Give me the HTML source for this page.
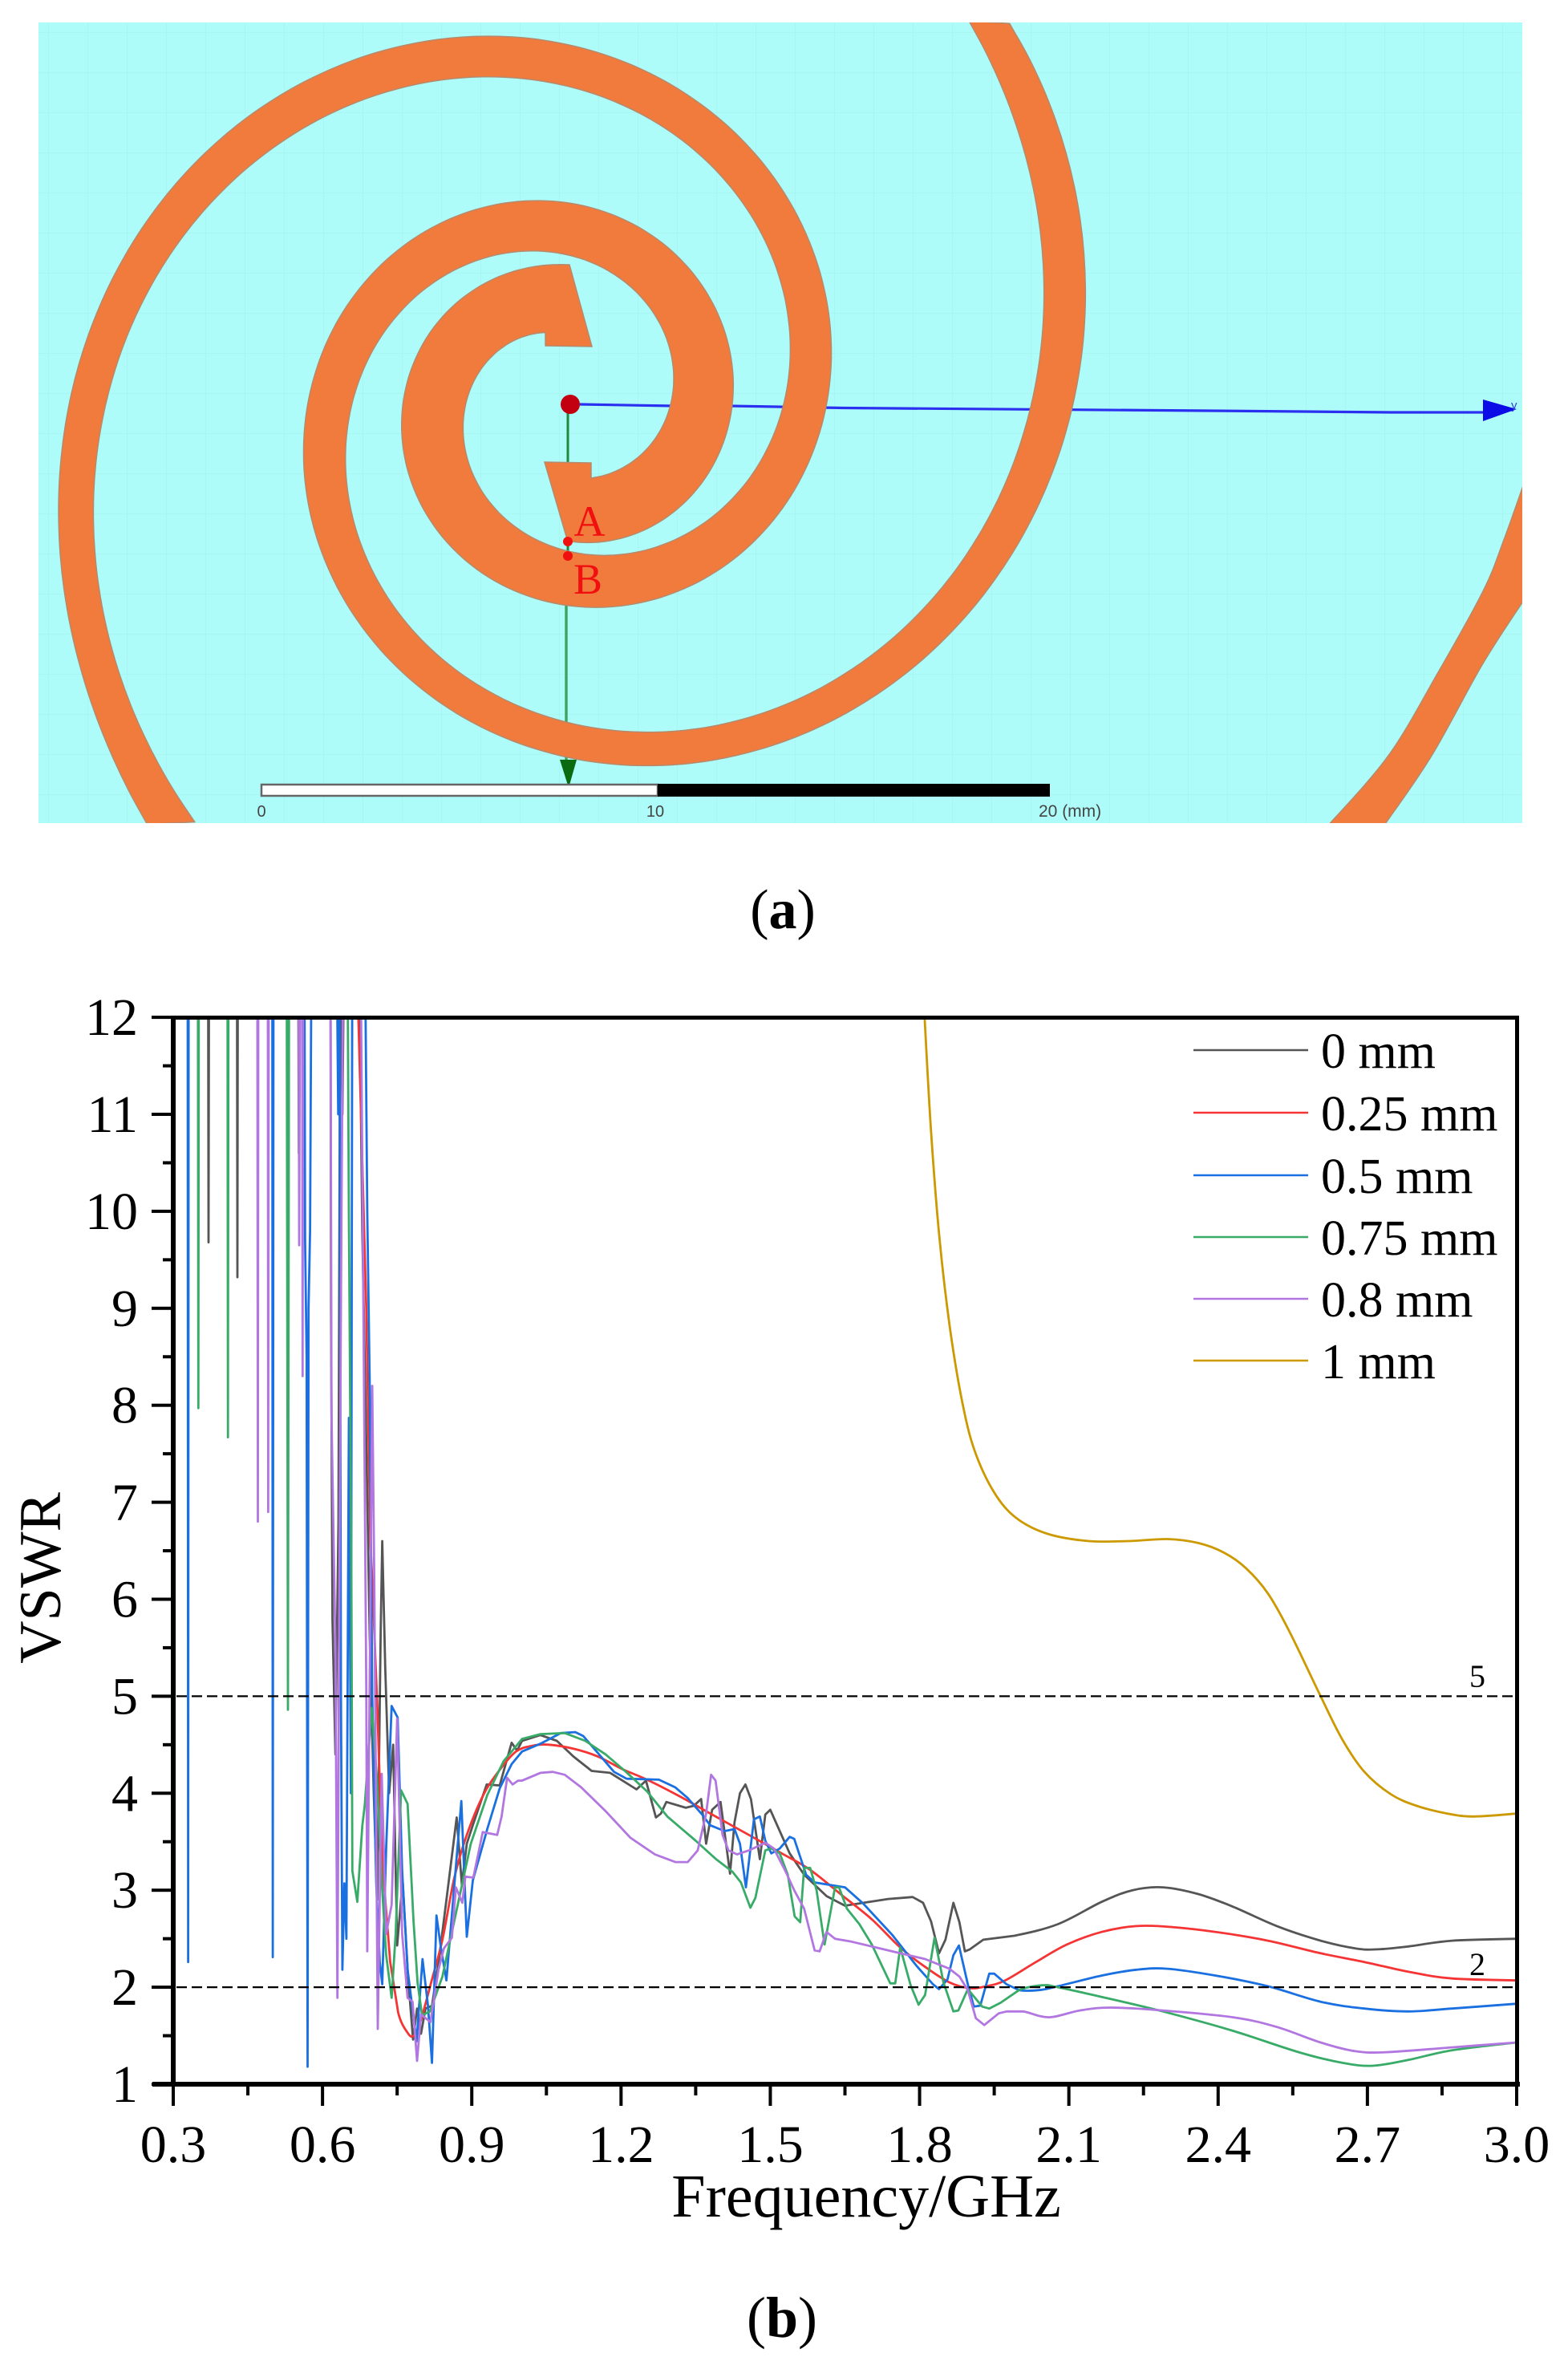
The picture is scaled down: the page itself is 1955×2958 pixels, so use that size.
<!DOCTYPE html>
<html lang="en">
<head>
<meta charset="utf-8">
<title>Spiral antenna and VSWR chart</title>
<style>
html,body{margin:0;padding:0;background:#fff;width:1955px;height:2958px;overflow:hidden}
svg{display:block}
text{font-family:"Liberation Serif",serif;fill:#000}
</style>
</head>
<body>
<svg id="root" xmlns="http://www.w3.org/2000/svg" width="1955" height="2958" viewBox="0 0 1955 2958">
<defs>
<pattern id="gridPat" width="49" height="50" patternUnits="userSpaceOnUse" x="60" y="40">
<rect width="49" height="50" fill="#aefcf9"/>
<path d="M0 0V50M0 0H49" stroke="#a6f3f0" stroke-width="1.5" fill="none"/>
</pattern>
<clipPath id="panelClip"><rect x="48" y="28" width="1850" height="998"/></clipPath>
<clipPath id="plotClip"><rect x="216" y="1268" width="1675" height="1330"/></clipPath>
</defs>

<g id="panel-a">
<rect x="48" y="28" width="1850" height="998" fill="url(#gridPat)"/>
<g clip-path="url(#panelClip)">
<line x1="708" y1="504" x2="708" y2="700" stroke="#1f8a3a" stroke-width="3"/>
<line x1="706" y1="700" x2="706" y2="950" stroke="#3ea35f" stroke-width="3.4"/>
<polygon points="698,947 719,947 709,982" fill="#0a6a10"/>
<polyline points="723,504 840,506 910,506 1051,508.5 1507,512 1734,514 1852,514" fill="none" stroke="#2a2ff0" stroke-width="3.2"/>
<polygon points="1849,498 1891,510 1849,525" fill="#0c0ce6"/>
<path id="arm1" fill="#f17a3d" stroke="#b58a6c" stroke-width="1.5"/>
<path id="arm2" fill="#f17a3d" stroke="#b58a6c" stroke-width="1.5"/>
<path id="arm3" fill="#f17a3d" stroke="#b58a6c" stroke-width="1.5"/>
<circle cx="711" cy="504" r="12" fill="#c20010"/>
<circle cx="708" cy="675" r="6" fill="#f01010"/>
<circle cx="708" cy="693" r="6" fill="#f01010"/>
</g>
<text x="1884" y="510" font-size="15" style="font-family:'Liberation Sans',sans-serif;fill:#3040e0">y</text>
<text x="735" y="668" font-size="54" text-anchor="middle" style="fill:#f01010">A</text>
<text x="733" y="740" font-size="54" text-anchor="middle" style="fill:#f01010">B</text>
<g>
<rect x="326" y="978" width="494" height="14" fill="#fff" stroke="#666" stroke-width="2.5"/>
<rect x="820" y="977" width="489" height="16" fill="#000"/>
<text x="326" y="1018" font-size="20" text-anchor="middle" style="font-family:'Liberation Sans',sans-serif;fill:#444">0</text>
<text x="817" y="1018" font-size="20" text-anchor="middle" style="font-family:'Liberation Sans',sans-serif;fill:#444">10</text>
<text x="1295" y="1018" font-size="21" style="font-family:'Liberation Sans',sans-serif;fill:#444">20 (mm)</text>
</g>
</g>
<text x="976" y="1157" font-size="70" text-anchor="middle">(<tspan font-weight="bold">a</tspan>)</text>

<g id="chart">
<g clip-path="url(#plotClip)">
<path id="s0" fill="none" stroke="#555555" stroke-width="2.8" stroke-linejoin="round"/>
<path id="s1" fill="none" stroke="#f53535" stroke-width="2.8" stroke-linejoin="round"/>
<path id="s2" fill="none" stroke="#1a70e0" stroke-width="2.8" stroke-linejoin="round"/>
<path id="s3" fill="none" stroke="#38ab68" stroke-width="2.8" stroke-linejoin="round"/>
<path id="s4" fill="none" stroke="#b176e0" stroke-width="2.8" stroke-linejoin="round"/>
<path id="s5" fill="none" stroke="#cc9900" stroke-width="2.8" stroke-linejoin="round"/>
</g>
<line id="ref5" stroke="#000" stroke-width="2.2" stroke-dasharray="13 6"/>
<line id="ref2" stroke="#000" stroke-width="2.2" stroke-dasharray="13 6"/>
<text x="1842" y="2103" font-size="40" text-anchor="middle">5</text>
<text x="1842" y="2462" font-size="40" text-anchor="middle">2</text>
<g id="axes">
<rect x="213" y="1266" width="1681" height="5" fill="#000"/>
<rect x="1889" y="1266" width="5" height="1335" fill="#000"/>
<rect x="213" y="1266" width="6" height="1335" fill="#000"/>
<rect x="190" y="2595" width="1705" height="6" fill="#000"/>
</g>
<text x="1080" y="2763" font-size="76" text-anchor="middle">Frequency/GHz</text>
<text transform="translate(75 1967) rotate(-90)" font-size="74" text-anchor="middle">VSWR</text>
<g id="legend">
<g><line x1="1488" x2="1631" y1="1309" y2="1309" stroke="#555555" stroke-width="2.4"/><text x="1647" y="1331" font-size="62">0 mm</text></g>
<g><line x1="1488" x2="1631" y1="1387" y2="1387" stroke="#f53535" stroke-width="2.4"/><text x="1647" y="1409" font-size="62">0.25 mm</text></g>
<g><line x1="1488" x2="1631" y1="1465" y2="1465" stroke="#1a70e0" stroke-width="2.4"/><text x="1647" y="1487" font-size="62">0.5 mm</text></g>
<g><line x1="1488" x2="1631" y1="1542" y2="1542" stroke="#38ab68" stroke-width="2.4"/><text x="1647" y="1564" font-size="62">0.75 mm</text></g>
<g><line x1="1488" x2="1631" y1="1619" y2="1619" stroke="#b176e0" stroke-width="2.4"/><text x="1647" y="1641" font-size="62">0.8 mm</text></g>
<g><line x1="1488" x2="1631" y1="1696" y2="1696" stroke="#cc9900" stroke-width="2.4"/><text x="1647" y="1718" font-size="62">1 mm</text></g>
</g>
</g>
<text x="975" y="2913" font-size="72" text-anchor="middle">(<tspan font-weight="bold">b</tspan>)</text>
</svg>

<script>
// Chart data: [frequency GHz, VSWR]
const xTickLabels = ['0.3','0.6','0.9','1.2','1.5','1.8','2.1','2.4','2.7','3.0'];
const xTickValues = [0.3,0.6,0.9,1.2,1.5,1.8,2.1,2.4,2.7,3.0];
const xMinorValues = [0.45,0.75,1.05,1.35,1.65,1.95,2.25,2.55,2.85];
const yTickValues = [1,2,3,4,5,6,7,8,9,10,11,12];
const yMinorValues = [1.5,2.5,3.5,4.5,5.5,6.5,7.5,8.5,9.5,10.5,11.5];
const referenceLevels = [5,2];

const series0mm = [[.3,13],[.37,13],[.371,9.68],[.372,13],[.428,13],[.429,9.32],[.43,13],[.551,13],[.5525,10.6],[.554,13],[.616,13],[.617,9],[.62,5.8],[.626,4.4],[.632,6.8],[.636,13],[.64,11],[.644,13],[.673,13],[.68,9.8],[.689,7.35],[.695,5.6],[.703,4],[.71,2.9],[.717,5.7],[.72,6.6],[.726,5.3],[.734,4],[.742,4.5],[.75,2.43],[.761,3.1],[.772,2.1],[.782,1.46],[.79,1.78],[.798,1.52],[.807,1.78],[.82,1.81],[.833,2.25],[.849,2.9],[.8696,3.75],[.88,3.06],[.89,3.48],[.902,3.67],[.93,4.09],[.956,4.08],[.98,4.52],[.991,4.44],[1.001,4.54],[1.038,4.6],[1.071,4.54],[1.104,4.38],[1.141,4.23],[1.178,4.21],[1.231,4.04],[1.25,4.13],[1.27,3.75],[1.28,3.79],[1.291,3.91],[1.33,3.85],[1.346,3.87],[1.361,3.94],[1.371,3.48],[1.383,3.83],[1.4,3.91],[1.419,3.17],[1.428,3.7],[1.439,4],[1.45,4.09],[1.461,3.94],[1.479,3.32],[1.49,3.78],[1.5,3.83],[1.539,3.38],[1.568,3.16],[1.613,2.94],[1.65,2.84],[1.687,2.87],[1.737,2.91],[1.786,2.93],[1.807,2.87],[1.823,2.68],[1.839,2.35],[1.852,2.49],[1.868,2.87],[1.88,2.67],[1.891,2.37],[1.901,2.39],[1.928,2.49],[1.99,2.53],[2.078,2.65],[2.166,2.88],[2.228,3],[2.289,3.03],[2.36,2.96],[2.43,2.83],[2.518,2.63],[2.606,2.48],[2.676,2.4],[2.72,2.39],[2.782,2.42],[2.87,2.48],[3,2.5]];

const series025mm = [[.3,13],[.3005,10.7],[.302,13],[.67,13],[.672,12],[.688,9],[.696,6.6],[.7,6.2],[.71,4.9],[.72,3.3],[.736,2.26],[.752,1.74],[.771,1.53],[.783,1.5],[.796,1.63],[.82,2.08],[.841,2.49],[.865,3.13],[.89,3.57],[.923,3.98],[.956,4.24],[.989,4.43],[1.022,4.49],[1.055,4.5],[1.104,4.46],[1.153,4.38],[1.202,4.25],[1.252,4.14],[1.317,3.97],[1.383,3.78],[1.457,3.57],[1.523,3.38],[1.58,3.21],[1.646,2.94],[1.704,2.7],[1.761,2.41],[1.811,2.21],[1.86,2.05],[1.901,1.99],[1.934,2.01],[1.972,2.07],[2.034,2.26],[2.096,2.44],[2.166,2.57],[2.236,2.63],[2.307,2.62],[2.395,2.57],[2.5,2.48],[2.606,2.35],[2.694,2.26],[2.782,2.16],[2.87,2.09],[3,2.07]];

const series05mm = [[.3,13],[.329,13],[.33,2.26],[.331,13],[.499,13],[.5,2.31],[.5015,13],[.5635,13],[.565,9.7],[.568,8.5],[.57,1.18],[.572,9],[.575,9.8],[.578,13],[.628,13],[.6315,11],[.634,13],[.637,5],[.64,2.18],[.644,3.07],[.648,2.5],[.653,7.87],[.657,4],[.66,13],[.685,13],[.69,10],[.695,8.2],[.7,5],[.708,3.07],[.715,2.26],[.72,2.03],[.728,3.44],[.739,4.9],[.751,4.78],[.76,3.2],[.771,2.18],[.789,1.44],[.801,2.29],[.812,1.81],[.82,1.22],[.829,2.74],[.838,2.4],[.849,2.07],[.879,3.92],[.89,2.52],[.902,3.1],[.931,3.63],[.956,4.05],[.98,4.3],[1.001,4.43],[1.038,4.51],[1.079,4.62],[1.108,4.63],[1.124,4.59],[1.161,4.37],[1.186,4.22],[1.211,4.15],[1.276,4.14],[1.309,4.06],[1.334,3.95],[1.363,3.78],[1.379,3.67],[1.408,3.61],[1.428,3.63],[1.439,3.48],[1.451,3.03],[1.467,3.73],[1.479,3.76],[1.49,3.51],[1.502,3.38],[1.519,3.43],[1.539,3.55],[1.548,3.53],[1.572,3.16],[1.589,3.08],[1.65,3.03],[1.687,2.86],[1.745,2.54],[1.794,2.22],[1.827,2.03],[1.839,1.98],[1.856,2.08],[1.868,2.33],[1.879,2.43],[1.897,2.03],[1.909,1.8],[1.922,1.81],[1.94,2.14],[1.95,2.14],[1.975,2.03],[2,1.97],[2.04,1.97],[2.078,2.01],[2.166,2.12],[2.236,2.18],[2.298,2.19],[2.395,2.12],[2.5,2.01],[2.606,1.85],[2.694,1.78],[2.782,1.75],[2.87,1.78],[3,1.83]];

const series075mm = [[.3,13],[.3495,13],[.3505,7.97],[.3515,13],[.409,13],[.41,7.67],[.411,13],[.528,13],[.5305,4.86],[.533,13],[.65,13],[.653,9.94],[.658,6.25],[.66,3.2],[.67,2.88],[.68,3.66],[.685,3.88],[.699,4.88],[.709,4.18],[.72,3],[.728,2.33],[.739,1.89],[.747,2.55],[.758,4.03],[.771,3.89],[.783,2.68],[.791,2.05],[.8,1.71],[.816,1.75],[.841,2.11],[.861,2.59],[.898,3.48],[.931,3.98],[.964,4.33],[1.001,4.56],[1.038,4.61],[1.087,4.62],[1.128,4.54],[1.169,4.4],[1.21,4.22],[1.252,4.02],[1.293,3.76],[1.35,3.51],[1.391,3.32],[1.424,3.19],[1.441,3.08],[1.46,2.82],[1.47,2.92],[1.49,3.41],[1.502,3.43],[1.519,3.38],[1.535,3.16],[1.549,2.73],[1.56,2.67],[1.568,3.23],[1.58,3.23],[1.593,3],[1.609,2.44],[1.63,3.03],[1.638,3.03],[1.654,2.81],[1.679,2.65],[1.704,2.44],[1.741,2.04],[1.751,2.04],[1.761,2.41],[1.782,2.02],[1.798,1.82],[1.811,1.92],[1.83,2.51],[1.848,2.05],[1.868,1.75],[1.878,1.76],[1.897,1.98],[1.926,1.8],[1.94,1.78],[1.963,1.84],[2,1.97],[2.047,2.02],[2.078,2],[2.166,1.9],[2.289,1.75],[2.43,1.55],[2.562,1.33],[2.65,1.22],[2.711,1.19],[2.782,1.25],[2.87,1.35],[3,1.43]];

const series08mm = [[.3,13],[.3005,8.17],[.302,13],[.469,13],[.47,6.8],[.471,13],[.49,13],[.4908,6.9],[.492,13],[.552,13],[.553,9.65],[.555,13],[.559,13],[.56,8.3],[.561,13],[.616,13],[.618,7.9],[.626,5.5],[.63,1.89],[.634,6.25],[.638,9.94],[.642,13],[.676,13],[.683,8.47],[.688,5.07],[.69,2.37],[.696,5.9],[.7,8.2],[.704,6.25],[.711,1.57],[.719,4.2],[.728,2.55],[.739,2.85],[.75,4.77],[.76,2.55],[.771,1.89],[.781,1.85],[.79,1.24],[.798,1.72],[.817,1.64],[.833,2.18],[.844,2.4],[.86,2.51],[.868,3.03],[.881,2.87],[.887,3.14],[.903,3.13],[.922,3.6],[.951,3.57],[.96,3.76],[.971,4.16],[.982,4.09],[.993,4.13],[1.001,4.13],[1.038,4.21],[1.063,4.22],[1.087,4.19],[1.12,4.06],[1.17,3.81],[1.219,3.54],[1.268,3.37],[1.309,3.29],[1.334,3.29],[1.354,3.41],[1.371,3.79],[1.381,4.19],[1.39,4.13],[1.404,3.57],[1.416,3.41],[1.433,3.37],[1.457,3.41],[1.49,3.49],[1.507,3.43],[1.531,3.19],[1.548,3],[1.568,2.81],[1.589,2.38],[1.599,2.37],[1.613,2.57],[1.63,2.5],[1.663,2.47],[1.745,2.37],[1.811,2.29],[1.86,2.19],[1.88,2.11],[1.897,1.97],[1.913,1.68],[1.93,1.61],[1.959,1.73],[1.975,1.75],[2.008,1.75],[2.06,1.69],[2.122,1.76],[2.184,1.79],[2.289,1.76],[2.43,1.69],[2.518,1.59],[2.606,1.43],[2.676,1.34],[2.738,1.33],[2.87,1.38],[3,1.43]];

const series1mm = [[1.81,12],[1.823,10.83],[1.84,9.72],[1.862,8.76],[1.889,7.95],[1.915,7.47],[1.955,7.06],[1.999,6.82],[2.06,6.67],[2.14,6.6],[2.219,6.6],[2.298,6.62],[2.36,6.58],[2.412,6.48],[2.456,6.32],[2.5,6.06],[2.544,5.66],[2.606,5],[2.65,4.55],[2.694,4.22],[2.747,3.99],[2.799,3.87],[2.861,3.79],[2.914,3.76],[3,3.79]];

const SVGNS = 'http://www.w3.org/2000/svg';
function scaleX(f){ return 216 + (f - 0.3) * (1675 / 2.7); }
function scaleY(v){ return 2598 - (v - 1) * 120.9; }

function drawSeries(id, data, smoothFrom){
  const p = data.map(function(d){ return [scaleX(d[0]), scaleY(d[1])]; });
  let d = 'M' + p[0][0].toFixed(1) + ' ' + p[0][1].toFixed(1);
  for(let i = 0; i < p.length - 1; i++){
    const c = p[i + 1];
    if(data[i][0] >= smoothFrom){
      const a = p[Math.max(i - 1, 0)], b = p[i], e = p[Math.min(i + 2, p.length - 1)];
      d += ' C' + (b[0] + (c[0] - a[0]) / 6).toFixed(1) + ' ' + (b[1] + (c[1] - a[1]) / 6).toFixed(1) + ' ' +
           (c[0] - (e[0] - b[0]) / 6).toFixed(1) + ' ' + (c[1] - (e[1] - b[1]) / 6).toFixed(1) + ' ' +
           c[0].toFixed(1) + ' ' + c[1].toFixed(1);
    } else {
      d += ' L' + c[0].toFixed(1) + ' ' + c[1].toFixed(1);
    }
  }
  document.getElementById(id).setAttribute('d', d);
}
drawSeries('s0', series0mm, 1.93);
drawSeries('s1', series025mm, 0.75);
drawSeries('s2', series05mm, 2.0);
drawSeries('s3', series075mm, 2.0);
drawSeries('s4', series08mm, 1.98);
drawSeries('s5', series1mm, 0);

['ref5','ref2'].forEach(function(id, i){
  const el = document.getElementById(id);
  el.setAttribute('x1', scaleX(0.3) + 4);
  el.setAttribute('x2', scaleX(3.0));
  el.setAttribute('y1', scaleY(referenceLevels[i]));
  el.setAttribute('y2', scaleY(referenceLevels[i]));
});

const axes = document.getElementById('axes');
xTickValues.forEach(function(v, i){
  const t = document.createElementNS(SVGNS, 'rect');
  
  
  t.setAttribute('x', scaleX(v) - 2);
  t.setAttribute('y', 2598);
  t.setAttribute('width', 4);
  t.setAttribute('height', 27);
  axes.appendChild(t);
  const l = document.createElementNS(SVGNS, 'text');
  
  
  l.setAttribute('x', scaleX(v));
  l.setAttribute('y', 2695);
  l.setAttribute('font-size', 66);
  l.setAttribute('text-anchor', 'middle');
  l.textContent = xTickLabels[i];
  axes.appendChild(l);
});
xMinorValues.forEach(function(v){
  const t = document.createElementNS(SVGNS, 'rect');
  
  
  t.setAttribute('x', scaleX(v) - 2);
  t.setAttribute('y', 2598);
  t.setAttribute('width', 4);
  t.setAttribute('height', 14);
  axes.appendChild(t);
});
yTickValues.forEach(function(v){
  const t = document.createElementNS(SVGNS, 'rect');
  
  
  t.setAttribute('x', 189);
  t.setAttribute('y', scaleY(v) - 2);
  t.setAttribute('width', 27);
  t.setAttribute('height', 4);
  axes.appendChild(t);
  const l = document.createElementNS(SVGNS, 'text');
  
  
  l.setAttribute('x', 172);
  l.setAttribute('y', scaleY(v) + 22);
  l.setAttribute('font-size', 66);
  l.setAttribute('text-anchor', 'end');
  l.textContent = String(v);
  axes.appendChild(l);
});
yMinorValues.forEach(function(v){
  const t = document.createElementNS(SVGNS, 'rect');
  
  
  t.setAttribute('x', 203);
  t.setAttribute('y', scaleY(v) - 2);
  t.setAttribute('width', 13);
  t.setAttribute('height', 4);
  axes.appendChild(t);
});

// Antenna outline geometry (panel a), page pixels
function smooth(p){
  let d = '';
  for(let i = 0; i < p.length - 1; i++){
    const a = p[Math.max(i - 1, 0)], b = p[i], c = p[i + 1], e = p[Math.min(i + 2, p.length - 1)];
    d += ' C' + (b[0] + (c[0] - a[0]) / 6).toFixed(1) + ' ' + (b[1] + (c[1] - a[1]) / 6).toFixed(1) + ' ' +
         (c[0] - (e[0] - b[0]) / 6).toFixed(1) + ' ' + (c[1] - (e[1] - b[1]) / 6).toFixed(1) + ' ' + c[0] + ' ' + c[1];
  }
  return d;
}
// Smooth a traced spiral edge: least-squares polynomial of log-radius against unwrapped angle
function fitEdge(pts){
  const cx = 711, cy = 504, deg = 6, n = deg + 1, samples = 140;
  const th = [], lr = [];
  let prev = null;
  pts.forEach(function(p){
    let a = Math.atan2(p[1] - cy, p[0] - cx);
    if(prev !== null){
      while(a - prev > Math.PI) a -= 2 * Math.PI;
      while(a - prev < -Math.PI) a += 2 * Math.PI;
    }
    prev = a;
    th.push(a);
    lr.push(Math.log(Math.hypot(p[0] - cx, p[1] - cy)));
  });
  const t0 = th[0], t1 = th[th.length - 1];
  const norm = function(a){ return 2 * (a - t0) / (t1 - t0) - 1; };
  const M = [];
  for(let i = 0; i < n; i++){ M.push(new Array(n + 1).fill(0)); }
  th.forEach(function(a, k){
    const t = norm(a);
    const pw = [1];
    for(let i = 1; i < n; i++){ pw.push(pw[i - 1] * t); }
    for(let i = 0; i < n; i++){
      for(let j = 0; j < n; j++){ M[i][j] += pw[i] * pw[j]; }
      M[i][n] += pw[i] * lr[k];
    }
  });
  for(let i = 0; i < n; i++){
    let piv = i;
    for(let r = i + 1; r < n; r++){ if(Math.abs(M[r][i]) > Math.abs(M[piv][i])) piv = r; }
    const tmp = M[i]; M[i] = M[piv]; M[piv] = tmp;
    for(let r = 0; r < n; r++){
      if(r !== i){
        const f = M[r][i] / M[i][i];
        for(let c = i; c <= n; c++){ M[r][c] -= f * M[i][c]; }
      }
    }
  }
  const coef = M.map(function(row, i){ return row[n] / row[i]; });
  const out = [];
  for(let s = 0; s <= samples; s++){
    const a = t0 + (t1 - t0) * s / samples;
    const t = norm(a);
    let v = 0;
    for(let i = n - 1; i >= 0; i--){ v = v * t + coef[i]; }
    const r = Math.exp(v);
    out.push([+(cx + r * Math.cos(a)).toFixed(1), +(cy + r * Math.sin(a)).toFixed(1)]);
  }
  return out;
}
const arm1Outer = [[710,330],[673,332],[630,342],[587,363],[547,397],[518,443],[505,507],[505,550],[515,600],[537,647],[573,693],[620,730],[673,753],[733,760],[780,757],[830,743],[880,717],[923,687],[960,643],[993,590],[1020,530],[1038,470],[1041,430],[1035,373],[1012,296],[977,236],[932,178],[875,128],[807,92],[711,57],[615,47],[519,57],[423,85],[328,137],[244,200],[174,284],[123,386],[88,488],[72,590],[70,667],[85,769],[110,852],[142,935],[181,1030]];
const arm1Inner = [[238,1030],[193,942],[158,852],[129,750],[120,667],[118,603],[129,526],[149,443],[184,360],[232,284],[296,220],[372,162],[455,121],[538,101],[615,97],[692,101],[775,130],[845,172],[903,226],[947,296],[976,367],[987,437],[982,490],[970,527],[947,573],[913,620],[863,663],[813,683],[747,697],[713,692],[680,677],[640,650],[607,620],[587,583],[578,533],[583,497],[600,457],[630,430],[680,415]];
const arm2Inner = [[737,595],[780,583],[810,557],[830,523],[838,473],[830,427],[810,387],[780,350],[740,323],[693,313],[647,313],[583,328],[513,379],[462,443],[436,514],[431,571],[443,641],[474,724],[519,788],[583,852],[679,897],[775,913],[871,907],[948,887],[1025,859],[1082,820],[1134,776],[1191,712],[1236,641],[1271,558],[1290,475],[1300,379],[1293,284],[1281,194],[1249,111],[1210,24]];
const arm2Outer = [[1265,24],[1293,92],[1322,169],[1341,258],[1350,379],[1338,482],[1313,571],[1281,648],[1236,724],[1178,795],[1114,852],[1051,897],[974,929],[910,951],[871,961],[794,964],[711,945],[615,910],[532,852],[462,776],[417,705],[385,635],[375,565],[382,501],[411,418],[455,347],[526,290],[602,258],[666,247],[743,258],[807,290],[864,347],[899,405],[914,475],[903,545],[864,616],[807,661],[743,678],[707,672]];
const arm3Left = [[1655,1030],[1731,942],[1792,840],[1849,737],[1875,673],[1902,597]];
const arm3Right = [[1902,745],[1849,827],[1785,942],[1725,1030]];

const a1o = fitEdge(arm1Outer), a1i = fitEdge(arm1Inner), a2i = fitEdge(arm2Inner), a2o = fitEdge(arm2Outer);
document.getElementById('arm1').setAttribute('d',
  'M710 330 L' + a1o[0].join(' ') + smooth(a1o) + ' L' + a1i[0].join(' ') + smooth(a1i) + ' L680 415 L680 431 L738 432 Z');
document.getElementById('arm2').setAttribute('d',
  'M679 576 L737 577 L737 595 L' + a2i[0].join(' ') + smooth(a2i) + ' L' + a2o[0].join(' ') + smooth(a2o) + ' L707 672 Z');
document.getElementById('arm3').setAttribute('d',
  'M1655 1030' + smooth(arm3Left) + ' L1902 745' + smooth(arm3Right) + ' Z');
</script>
</body>
</html>
